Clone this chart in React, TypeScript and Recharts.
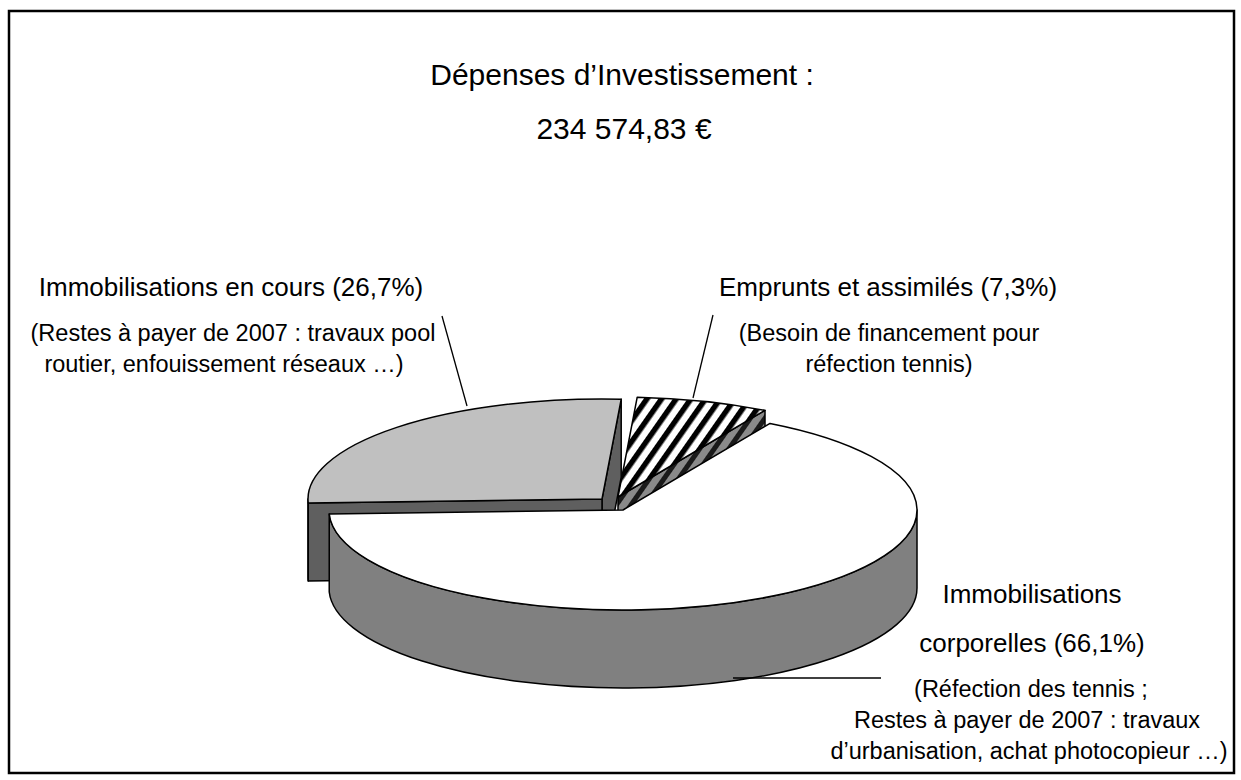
import React from "react";
import { PieChart, Pie } from "recharts";

// ---------- data ----------
const titleLines = ["Dépenses d’Investissement :", "234 574,83 €"];
const categories = ["Emprunts et assimilés", "Immobilisations en cours", "Immobilisations corporelles"];
const shares = [7.3, 26.7, 66.1];
const labelLines = [
  ["Emprunts et assimilés (7,3%)"],
  ["Immobilisations en cours (26,7%)"],
  ["Immobilisations", "corporelles (66,1%)"],
];
const detailLines = [
  ["(Besoin de financement pour", "réfection tennis)"],
  ["(Restes à payer de 2007 : travaux pool", "routier, enfouissement réseaux …)"],
  ["(Réfection des tennis ;", "Restes à payer de 2007 : travaux", "d’urbanisation, achat photocopieur …)"],
];

const data = categories.map((name, i) => ({ name, value: shares[i], idx: i }));

// ---------- layout / style ----------
const W = 1241;
const H = 780;
const CX = 623;
const CY = 510;
const RX = 294;
const TILT = 100 / 294;
const DEPTH = 78;
const FONT = "'Liberation Sans', Arial, Helvetica, sans-serif";

const SLICE_STYLE = [
  { top: "url(#hatchTop)", wall: "url(#hatchWall)", dx: -5, dy: -13 },
  { top: "#C0C0C0", wall: "#5F5F5F", dx: -21, dy: -11 },
  { top: "#FFFFFF", wall: "#808080", dx: 0, dy: 0 },
];

const LABEL_LAYOUT = [
  { mx: [888], my: [296], dx: [889, 889], dy: [341, 372], line: [713, 315, 693, 398] },
  { mx: [231], my: [296], dx: [233, 224], dy: [341, 372], line: [442, 316, 467, 406] },
  { mx: [1032, 1032], my: [603, 652], dx: [1031, 1027, 1029], dy: [697, 728, 759], line: [733, 678, 881, 678] },
];

const rad = (a: number) => (a * Math.PI) / 180;

function Slice3D(props: any) {
  const { cx, cy, outerRadius, startAngle, endAngle, payload } = props;
  const idx = payload && payload.idx != null ? payload.idx : props.idx;
  const st = SLICE_STYLE[idx];
  if (!st) return null;
  const rx = outerRadius;
  const ry = outerRadius * TILT;
  const X = cx + st.dx;
  const Y = cy + st.dy;
  const a1 = Math.min(startAngle, endAngle);
  const a2 = Math.max(startAngle, endAngle);
  const P = (a: number, d = 0) => [X + rx * Math.cos(rad(a)), Y - ry * Math.sin(rad(a)) + d];
  const f = (p: number[]) => `${p[0].toFixed(2)},${p[1].toFixed(2)}`;
  const C = [X, Y];
  const CD = [X, Y + DEPTH];
  const sp = { stroke: "#000", strokeWidth: 1.5, strokeLinejoin: "round" as const };
  const parts: any[] = [];
  const radial = (a: number) => `M${f(C)} L${f(P(a))} L${f(P(a, DEPTH))} L${f(CD)} Z`;
  if (Math.cos(rad(a1)) > 1e-6) parts.push(<path key="r1" d={radial(a1)} fill={st.wall} {...sp} />);
  if (Math.cos(rad(a2)) < -1e-6) parts.push(<path key="r2" d={radial(a2)} fill={st.wall} {...sp} />);
  for (let k = -1; k <= 1; k++) {
    const s = Math.max(a1, 180 + 360 * k);
    const e = Math.min(a2, 360 + 360 * k);
    if (e - s > 0.01) {
      const lg = e - s > 180 ? 1 : 0;
      const d = `M${f(P(s))} A${rx},${ry} 0 ${lg} 0 ${f(P(e))} L${f(P(e, DEPTH))} A${rx},${ry} 0 ${lg} 1 ${f(P(s, DEPTH))} Z`;
      parts.push(<path key={"c" + k} d={d} fill={st.wall} {...sp} />);
    }
  }
  const lg = a2 - a1 > 180 ? 1 : 0;
  const top = `M${f(C)} L${f(P(a1))} A${rx},${ry} 0 ${lg} 0 ${f(P(a2))} Z`;
  parts.push(<path key="top" d={top} fill={st.top} {...sp} />);
  return <g>{parts}</g>;
}

function renderLabel(props: any) {
  const idx = props.payload && props.payload.idx != null ? props.payload.idx : props.index;
  const L = LABEL_LAYOUT[idx];
  if (!L) return null;
  const [x1, y1, x2, y2] = L.line;
  return (
    <g key={"lab" + idx}>
      <line x1={x1} y1={y1} x2={x2} y2={y2} stroke="#000" strokeWidth={1.3} />
      {labelLines[idx].map((t, j) => (
        <text key={"m" + j} x={L.mx[j]} y={L.my[j]} textAnchor="middle" fontSize={26} fontFamily={FONT} fill="#000">
          {t}
        </text>
      ))}
      {detailLines[idx].map((t, j) => (
        <text key={"d" + j} x={L.dx[j]} y={L.dy[j]} textAnchor="middle" fontSize={23.5} fontFamily={FONT} fill="#000">
          {t}
        </text>
      ))}
    </g>
  );
}

export default function App() {
  return (
    <div style={{ position: "absolute", left: 0, top: 0, width: W, height: H, background: "#fff" }}>
      <svg width={0} height={0} style={{ position: "absolute" }}>
        <defs>
          <pattern id="hatchTop" patternUnits="userSpaceOnUse" width="12" height="12" patternTransform="rotate(35)">
            <rect width="12" height="12" fill="#fff" />
            <rect width="5.5" height="12" fill="#000" />
          </pattern>
          <pattern id="hatchWall" patternUnits="userSpaceOnUse" width="12" height="12" patternTransform="rotate(35)">
            <rect width="12" height="12" fill="#8a8a8a" />
            <rect width="5" height="12" fill="#1a1a1a" />
          </pattern>
        </defs>
      </svg>
      <PieChart width={W} height={H} margin={{ top: 0, right: 0, bottom: 0, left: 0 }}>
        <rect x={9} y={11} width={1225} height={762} fill="none" stroke="#000" strokeWidth={2.5} />
        <text x={622} y={85} textAnchor="middle" fontSize={30} fontFamily={FONT} fill="#000">
          {titleLines[0]}
        </text>
        <text x={624} y={139} textAnchor="middle" fontSize={30} fontFamily={FONT} fill="#000">
          {titleLines[1]}
        </text>
        <Pie
          data={data}
          dataKey="value"
          nameKey="name"
          cx={CX}
          cy={CY}
          innerRadius={0}
          outerRadius={RX}
          startAngle={60}
          endAngle={420}
          isAnimationActive={false}
          shape={Slice3D}
          activeShape={Slice3D}
          label={renderLabel}
          labelLine={false}
          fill="#ddd"
          stroke="none"
        />
      </PieChart>
    </div>
  );
}
